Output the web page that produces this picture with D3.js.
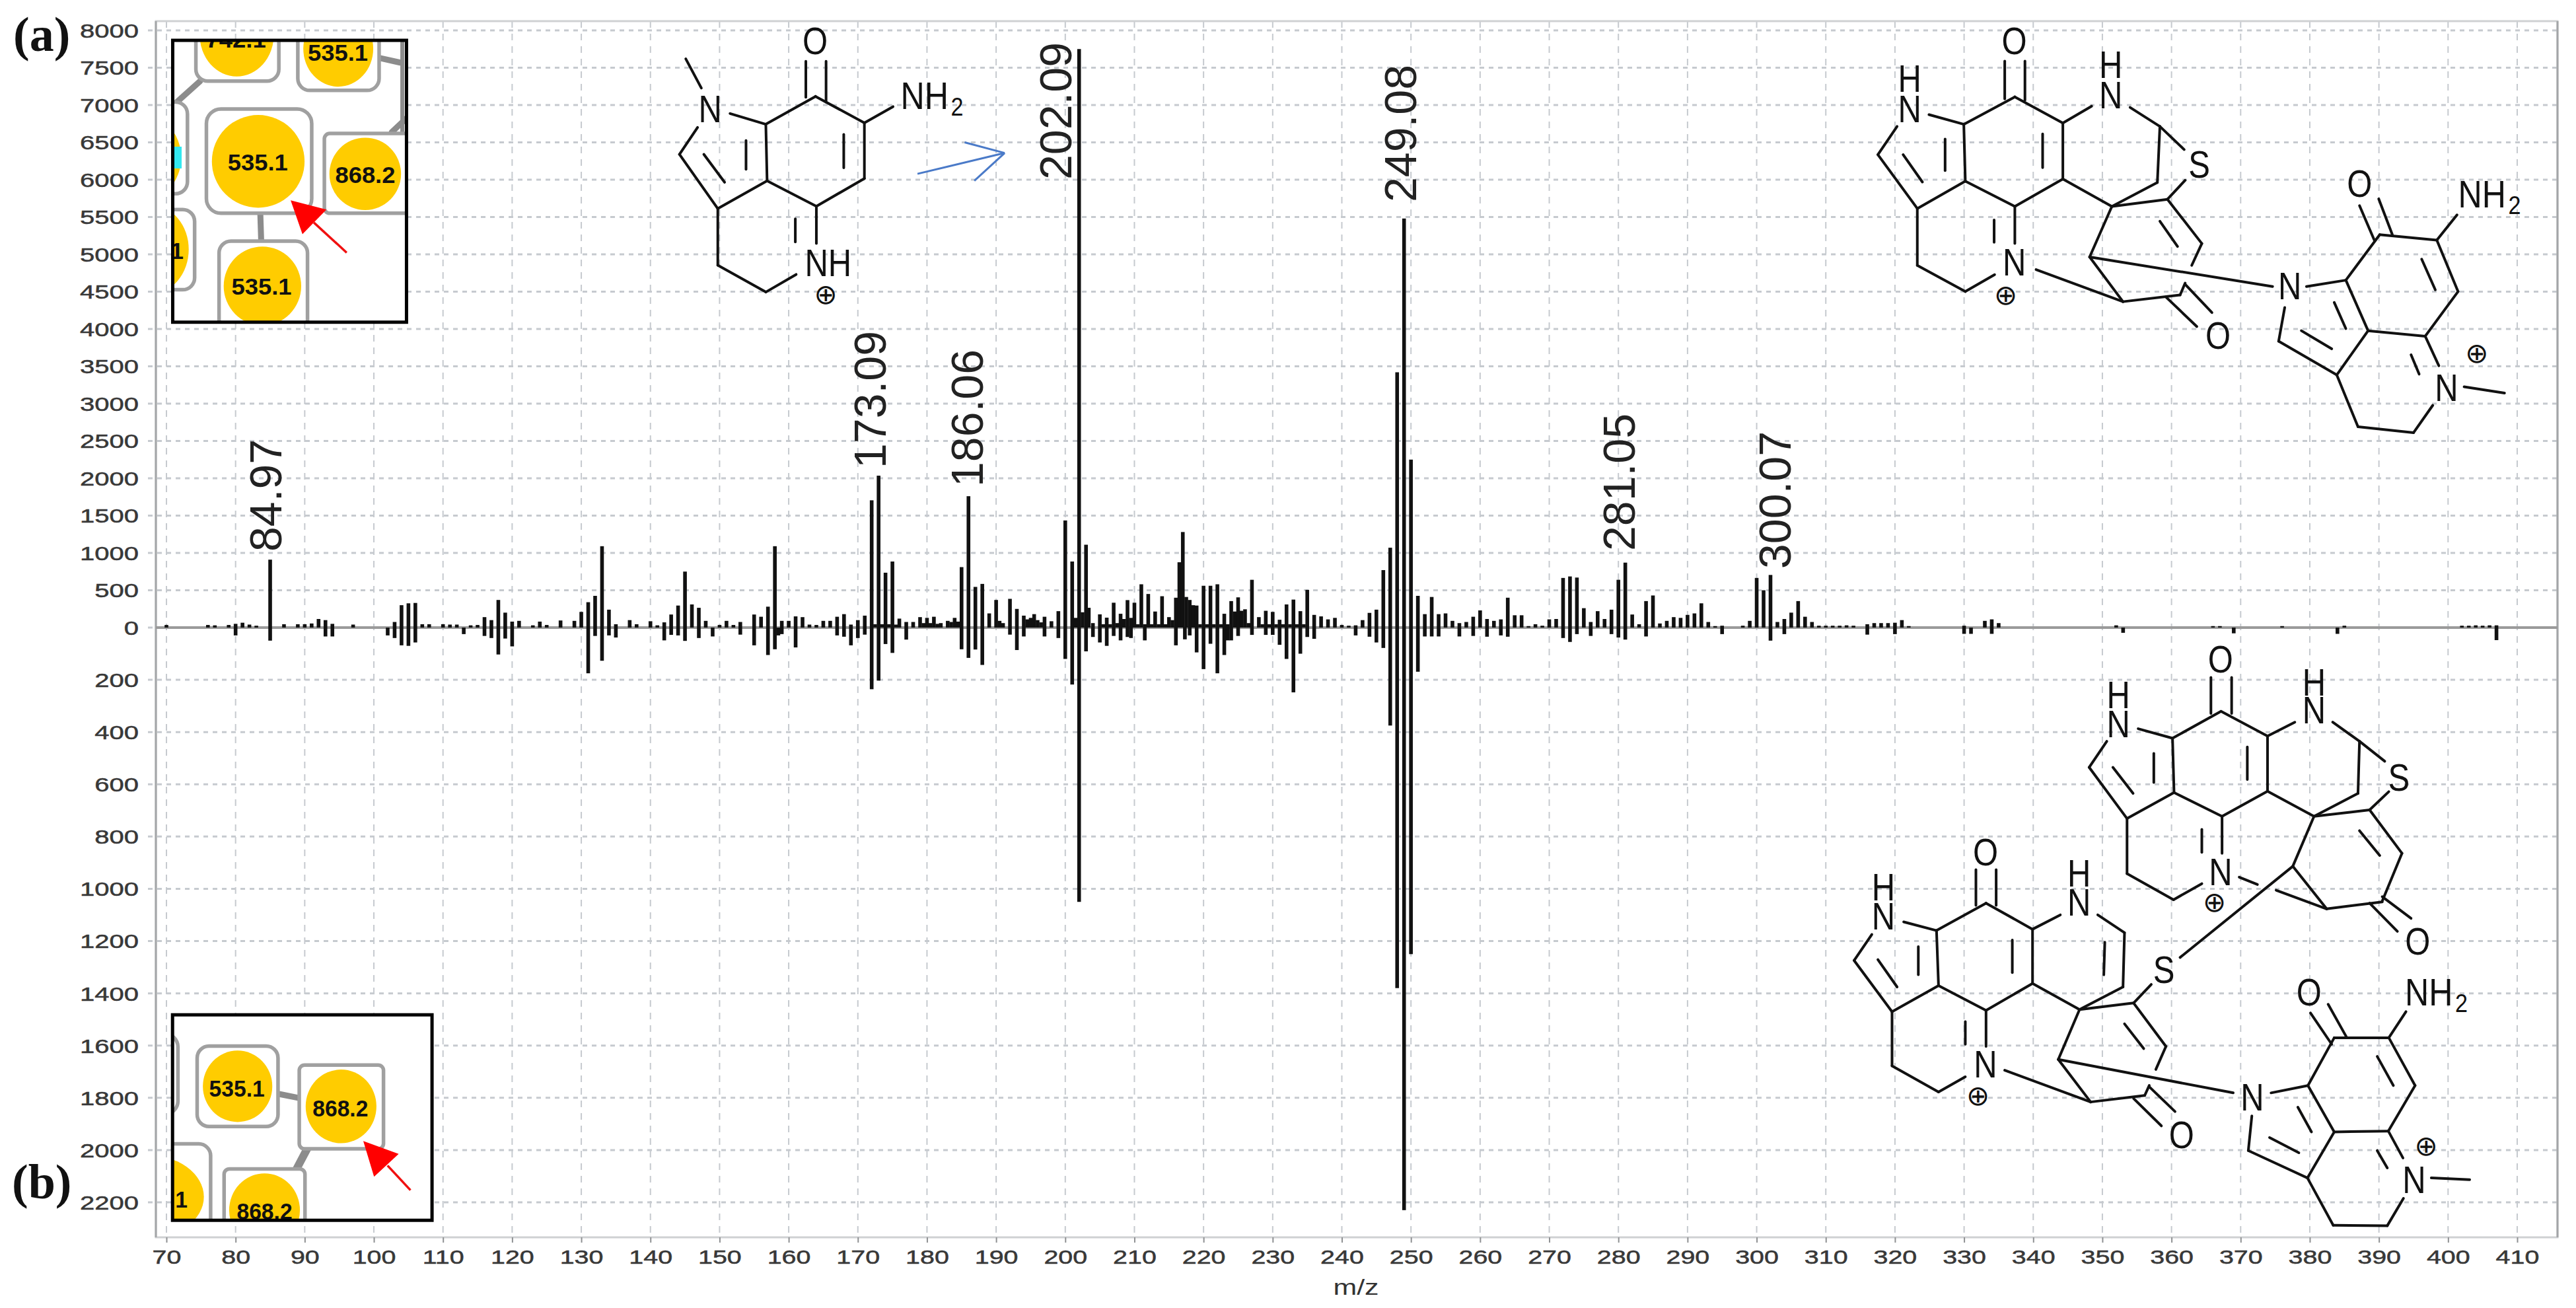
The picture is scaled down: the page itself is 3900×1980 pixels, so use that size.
<!DOCTYPE html>
<html><head><meta charset="utf-8">
<script src="https://cdn.jsdelivr.net/npm/d3@7/dist/d3.min.js"></script>
<style>html,body{margin:0;padding:0;background:#fff}svg{display:block}svg{font-family:"Liberation Sans",Arial,sans-serif}</style>
</head><body><svg id="c" width="3900" height="1980"></svg>
<script>
// ---------- data ----------
const xTicks = d3.range(70, 411, 10);
const yTicksAbove = d3.range(0, 8001, 500);
const yTicksBelow = d3.range(200, 2201, 200);
const xLabel = "m/z";
const panelLabels = ["(a)", "(b)"];

const mzAboveLow = [70,76,77,79,80,81,82,83,85,87,89,90,91,92,93,94,97,103,104,105,106,107,108,110,111,112,114,115,116,117,118,119,120,121,123,124,125,127,129,130,131,132,133,134,135,137,138,140,141,142,143,144,145,146,147,148,150,
151,152,153,155,156,157,158,159,160,161,162,163,164,165,166,167,168,169,170,171,172,172.5,173,173.5,174,174.5,175,175.5,176,177,178,179,179.5,180,180.5,181,181.5,182,183,183.5,184,184.5,185,186,187,188,189,190,190.5,191,192,193,194,194.5,195,195.5,196,196.5,197,198,199];
const intensityAboveLow = [35,35,30,35,50,65,40,25,910,45,45,45,55,115,100,50,40,75,300,325,330,45,45,45,40,40,30,35,140,100,370,200,80,90,30,80,35,95,90,210,340,425,1090,240,45,100,45,85,30,70,175,295,750,310,265,90,35,
90,35,75,175,145,280,1090,90,90,150,140,40,35,90,90,145,180,40,100,160,1705,45,2035,45,735,45,885,40,120,75,75,140,60,130,60,145,50,60,90,75,130,80,810,1760,545,585,190,370,90,60,385,250,160,110,130,180,100,70,145,85,220];
const mzAboveMid = [200,201,201.5,202,202.5,203,203.4,204,205,205.5,206,206.5,207,207.5,208,208.5,209,209.5,210,210.5,211,211.5,212,212.5,213,213.5,214,214.5,215,215.5,216,216.5,217,217.5,218,218.5,219,219.5,220,220.5,221,221.5,222,222.5,223,223.5,224,224.5,225,225.5,226,226.5,227,228,228.5,229,229.5,230,230.5,231,231.5,232,232.5,233,233.5,234,234.5,235,236];
const intensityAboveMid = [1435,885,130,7750,205,1110,265,60,177,45,133,45,333,60,185,115,368,130,333,45,580,45,450,45,215,45,420,45,140,100,400,875,1280,410,370,300,295,45,560,45,560,45,580,45,185,45,355,215,405,225,245,60,640,140,45,225,45,210,45,105,45,310,45,375,45,220,45,505,170];
const mzAboveHigh = [237,238,239,240,241,242,243,244,245,246,247,248,249,250,251,252,253,254,255,256,257,258,259,260,261,262,263,264,265,266,267,268,269,270,271,272,273,274,275,276,277,278,279,280,281,282,283,284,285,286,287,288,289,290,291,292,293,294,295,298,299,300,301,302,303,304,305,306,307,308,309,310,311,312,313,314,316,317,318,319,320,321,322,330,333,334,335,352,366,367,376,385,402,403,404,405,406,407];
const intensityAboveHigh = [150,110,130,35,25,30,100,197,240,770,1070,3420,5480,2250,425,180,410,180,190,90,60,75,145,230,115,90,110,400,165,165,20,45,25,110,115,665,685,670,260,75,220,115,240,640,870,175,45,355,430,55,90,140,130,170,190,325,75,20,25,25,90,665,500,705,75,115,200,355,145,75,25,25,25,25,30,25,45,60,60,60,65,100,20,25,90,110,60,30,20,20,20,25,25,25,30,25,30,30];
const mzBelow = [80,85,93,94,102,103,104,105,106,113,116,117,118,119,120,131,132,133,134,135,142,143,144,145,147,149,153,155,157,158,158.5,159,161,167,168,169,170,171,172,173,174,175,177,185,186,187,188,192,193,194,197,
199,200,201,202,203,204,205,206,207,208,209,209.5,211.5,216,217.3,218,219,220,221,222,223,223.5,224,225,227,229,230,231,232,233,234,235,236,242,244,
245,246,247,248,249,250,251,252,253,254,257,259,261,263,264,272,273,274,276,279,280,281,284,295,302,304,316,320,330,331,334,353,369,384,407];
const intensityBelow = [30,50,34,34,30,40,68,70,57,25,32,40,103,42,72,175,32,127,30,38,49,28,30,51,40,34,27,68,105,83,30,25,76,30,35,68,40,27,236,203,63,97,46,83,116,84,143,27,86,34,34,
40,120,218,1050,91,36,57,70,32,49,36,40,49,68,45,30,95,159,62,175,105,49,49,32,28,28,28,66,120,248,100,36,43,30,35,
57,78,375,1380,2230,1250,169,34,34,34,34,32,35,30,35,40,55,25,32,25,38,46,34,25,50,25,27,25,24,24,24,20,22,24,48];
const mzAbove = mzAboveLow.concat(mzAboveMid, mzAboveHigh);
const intensityAbove = intensityAboveLow.concat(intensityAboveMid, intensityAboveHigh);
const peakLabels = ["84.97","173.09","186.06","202.09","249.08","281.05","300.07"];
const insetANodes = ["742.1","535.1","535.1","868.2","535.1"];
const insetBNodes = ["535.1","868.2","868.2"];

// ---------- scales & chart ----------
const svg = d3.select("#c");
const F = {l:236, r:3872, t:32, b:1873};
const x = d3.scaleLinear().domain([70,410]).range([252,3811]);
const y = d3.scaleLinear().domain([-2200,0,8000]).range([1820,950,46]);
const ink = "#111", gridC = "#c6cacf";

const gridG = svg.append("g");
gridG.selectAll("line.v").data(xTicks).join("line").attr("class","v")
  .attr("x1",d=>x(d)).attr("x2",d=>x(d)).attr("y1",F.t).attr("y2",F.b)
  .attr("stroke",gridC).attr("stroke-width",2).attr("stroke-dasharray","10 9");
const yAll = yTicksAbove.concat(yTicksBelow.map(v=>-v));
gridG.selectAll("line.h").data(yAll).join("line").attr("class","h")
  .attr("x1",F.l-12).attr("x2",F.r).attr("y1",d=>y(d)).attr("y2",d=>y(d))
  .attr("stroke",gridC).attr("stroke-width",3).attr("stroke-dasharray","7 7");

// frame
svg.append("rect").attr("x",F.l).attr("y",F.t).attr("width",F.r-F.l).attr("height",F.b-F.t)
  .attr("fill","none").attr("stroke","#cfd1d3").attr("stroke-width",3);
svg.append("line").attr("x1",F.l).attr("x2",F.l).attr("y1",F.t).attr("y2",F.b).attr("stroke","#a4a6a8").attr("stroke-width",3);
svg.append("line").attr("x1",F.r).attr("x2",F.r).attr("y1",F.t).attr("y2",F.b).attr("stroke","#a4a6a8").attr("stroke-width",3);

// axes
const axL = svg.append("g").attr("transform",`translate(${F.l},0)`)
  .call(d3.axisLeft(y).tickValues(yAll).tickSize(0).tickFormat(d=>Math.abs(d)));
axL.select(".domain").remove();
axL.selectAll("text").attr("x",0).attr("dy",null).attr("dominant-baseline","central")
  .attr("transform","translate(-26,0) scale(1.38,1)")
  .attr("font-size",29).attr("font-family","Liberation Sans").attr("fill","#383838").attr("stroke","#383838").attr("stroke-width",0.5).attr("text-anchor","end");
const axB = svg.append("g").attr("transform",`translate(0,${F.b})`)
  .call(d3.axisBottom(x).tickValues(xTicks).tickSize(8).tickFormat(d=>d));
axB.select(".domain").remove();
axB.selectAll("line").attr("stroke","#8f9193").attr("stroke-width",2);
axB.selectAll("text").attr("y",0).attr("dy",null).attr("text-anchor","middle")
  .attr("transform","translate(0,40) scale(1.36,1)")
  .attr("font-size",29).attr("font-family","Liberation Sans").attr("fill","#383838").attr("stroke","#383838").attr("stroke-width",0.5);
svg.append("text").attr("transform","translate(2053,1960) scale(1.3,1)").attr("text-anchor","middle").attr("font-size",33).attr("fill","#333").text(xLabel);

// baseline
svg.append("line").attr("x1",F.l).attr("x2",F.r).attr("y1",y(0)).attr("y2",y(0)).attr("stroke","#9a9a9a").attr("stroke-width",4);

// spectra
const barW = 5.6;
svg.append("g").selectAll("rect").data(mzAbove).join("rect")
  .attr("x",d=>x(d)-barW/2).attr("width",barW)
  .attr("y",(d,i)=>y(intensityAbove[i])).attr("height",(d,i)=>y(0)-y(intensityAbove[i])).attr("fill",ink);
svg.append("g").selectAll("rect").data(mzBelow).join("rect")
  .attr("x",d=>x(d)-barW/2).attr("width",barW)
  .attr("y",y(0)).attr("height",(d,i)=>y(-intensityBelow[i])-y(0)).attr("fill",ink);

// peak labels
const labelPos = [[426,835],[1341,709],[1488,737],[1622,272],[2144,306],[2475,834],[2711,861]];
svg.append("g").selectAll("text").data(peakLabels).join("text")
  .attr("transform",(d,i)=>`translate(${labelPos[i][0]},${labelPos[i][1]}) rotate(-90)`)
  .attr("font-size",68).attr("fill","#222").text(d=>d);

// panel labels
svg.append("text").attr("x",20).attr("y",77).style("font-family","Liberation Serif").attr("font-weight",700).attr("font-size",74).attr("fill","#111").text(panelLabels[0]);
svg.append("text").attr("x",18).attr("y",1814).style("font-family","Liberation Serif").attr("font-weight",700).attr("font-size",74).attr("fill","#111").text(panelLabels[1]);

// ---------- chemical structures (annotation drawings) ----------
const frame = (ox,oy,sx,sy)=>p=>[ox+p[0]/sx, oy+p[1]/sy];
function mol(g,map,bonds,atoms,extra){
  bonds.forEach(b=>{
    const a=map([b[0],b[1]]), c=map([b[2],b[3]]);
    g.append("line").attr("x1",a[0]).attr("y1",a[1]).attr("x2",c[0]).attr("y2",c[1])
     .attr("stroke",ink).attr("stroke-width",4).attr("stroke-linecap","round");
  });
  atoms.forEach(t=>{
    const p=map([t[1],t[2]]);
    if(t[0]==="⊕"){
      g.append("text").attr("x",p[0]).attr("y",p[1]).attr("dy","0.34em").attr("text-anchor","middle")
       .style("font-family","DejaVu Sans").attr("font-size",42).attr("fill",ink).text("⊕");
    } else {
      g.append("text").attr("transform",`translate(${p[0]},${p[1]}) scale(0.86,1)`).attr("dy","0.36em")
       .attr("text-anchor","middle").attr("font-size",57).attr("fill",ink).text(t[0]);
    }
  });
  (extra||[]).forEach(t=>{
    const p=map([t[0],t[1]]);
    g.append("text").attr("transform",`translate(${p[0]},${p[1]}) scale(0.88,1)`).attr("font-size",57).attr("fill",ink).text("NH");
    g.append("text").attr("transform",`translate(${p[0]+76},${p[1]+10}) scale(0.9,1)`).attr("font-size",38).attr("fill",ink).text("2");
  });
}
const molG = svg.append("g");
const mapA = frame(1000,0,1.568,1.425);
mol(molG,mapA,[[60,127,97,190],[165,245,250,268],[250,268,368,208],[368,208,484,265],[484,265,484,385],[484,385,370,445],[370,445,253,390],[253,390,250,268],[253,390,136,450],[136,450,45,333],[45,333,88,275],[103,333,152,393],[203,303,203,365],[435,290,435,362],[345,210,345,132],[393,220,393,132],[484,265,552,230],[136,450,136,572],[136,572,250,630],[250,630,322,592],[370,445,370,525],[320,472,320,522]],
 [["N",118,235],["O",367,88],["NH",398,567],["⊕",392,635]],[[570,235]]);
[[610,375,817,330],[722,307,817,330],[745,390,817,330]].forEach(b=>{
  const a=mapA([b[0],b[1]]),c=mapA([b[2],b[3]]);
  molG.append("line").attr("x1",a[0]).attr("y1",a[1]).attr("x2",c[0]).attr("y2",c[1]).attr("stroke","#4a7ac8").attr("stroke-width",3);
});
mol(molG,frame(2700,0,1.307,1.568),[[288,272,357,295],[357,295,458,230],[458,230,553,292],[553,292,610,252],[686,255,745,300],[745,300,793,355],[745,300,740,433],[740,433,650,490],[553,292,553,425],[553,425,458,490],[458,490,360,430],[360,430,357,295],[360,430,265,495],[265,495,187,367],[187,367,225,300],[237,367,275,432],[320,330,320,405],[513,318,513,398],[438,235,438,145],[478,238,478,145],[553,425,650,490],[650,490,760,473],[760,473,795,428],[760,473,828,578],[745,525,780,585],[828,578,808,630],[650,490,606,610],[606,610,672,716],[606,610,968,680],[672,716,500,640],[672,716,785,700],[785,700,795,672],[757,705,818,775],[795,675,848,742],[265,495,265,630],[265,630,360,692],[360,692,418,652],[458,490,458,578],[417,522,417,575],[1035,680,1113,665],[1113,665,1180,557],[1180,557,1293,570],[1293,570,1335,692],[1335,692,1270,798],[1270,798,1157,785],[1157,785,1113,665],[1157,785,1095,890],[1095,890,980,810],[980,810,992,730],[1025,785,1085,828],[1090,718,1113,780],[1263,615,1290,688],[1140,488,1170,572],[1178,472,1205,557],[1293,570,1333,510],[1095,890,1137,1013],[1137,1013,1247,1027],[1247,1027,1285,962],[1270,798,1297,868],[1242,842,1258,888],[1347,918,1427,933]],
 [["H",250,185],["N",250,258],["O",457,97],["H",648,153],["N",648,225],["S",823,390],["N",457,622],["⊕",440,700],["O",860,795],["N",1002,678],["O",1140,435],["N",1312,920],["⊕",1372,838]],[[1335,492]]);
mol(molG,frame(2700,950,1.307,1.522),[[702,233,770,255],[770,255,866,193],[866,193,958,250],[958,250,1012,218],[1087,218,1140,262],[1140,262,1190,308],[1140,262,1137,382],[1137,382,1050,435],[958,250,958,377],[958,377,868,435],[868,435,773,380],[773,380,770,255],[773,380,680,440],[680,440,605,322],[605,322,640,262],[652,322,692,382],[733,290,733,357],[918,275,918,350],[846,198,846,115],[887,198,887,115],[958,377,1050,435],[1050,435,1160,420],[1160,420,1198,378],[1160,420,1224,520],[1140,468,1180,525],[1224,520,1185,630],[1050,435,1008,550],[1008,550,1075,648],[975,605,1075,648],[1075,648,1185,632],[1160,635,1215,700],[1185,620,1242,670],[680,440,680,567],[680,567,772,627],[772,627,828,590],[868,435,868,520],[828,465,828,518],[902,575,938,592],[1008,550,785,760],
 [238,678,303,698],[303,698,401,635],[401,635,493,695],[493,695,548,662],[622,662,675,703],[675,703,672,828],[672,828,586,880],[636,725,634,800],[493,695,493,820],[493,820,401,882],[401,882,307,825],[307,825,303,698],[307,825,215,885],[215,885,140,767],[140,767,175,707],[187,765,225,828],[267,735,267,800],[453,720,453,795],[381,640,381,558],[421,640,421,558],[493,820,586,880],[586,880,693,865],[693,865,728,822],[693,865,757,965],[675,913,713,970],[757,965,737,1018],[586,880,544,995],[544,995,608,1093],[544,995,890,1072],[608,1093,438,1020],[608,1093,715,1078],[715,1078,724,1055],[693,1085,748,1148],[724,1058,775,1115],[215,885,215,1010],[215,1010,307,1070],[307,1070,360,1035],[401,882,401,965],[360,908,360,960],[965,1072,1038,1055],[1038,1055,1090,945],[1090,945,1198,945],[1198,945,1250,1055],[1250,1055,1197,1160],[1197,1160,1090,1162],[1090,1162,1038,1055],[1090,1162,1037,1268],[1037,1268,920,1205],[920,1205,927,1125],[962,1175,1020,1210],[1018,1105,1045,1162],[1175,988,1207,1055],[1043,888,1085,960],[1078,868,1115,945],[1198,945,1232,885],[1037,1268,1088,1377],[1088,1377,1195,1378],[1195,1378,1227,1315],[1197,1160,1226,1222],[1175,1205,1195,1245],[1282,1268,1358,1272]],
 [["H",663,155],["N",663,222],["O",865,72],["H",1050,125],["N",1050,190],["S",1218,345],["N",865,562],["⊕",853,632],["O",1255,722],["S",753,788],["H",198,598],["N",198,665],["O",400,517],["H",585,565],["N",585,632],["N",400,1005],["⊕",385,1078],["O",788,1168],["N",928,1082],["O",1040,840],["N",1248,1272],["⊕",1272,1195]],[[1230,870]]);

// ---------- insets ----------
const defs = svg.append("defs");
function inset(id,map,rectZ,boxes,circles,texts,conns,arrow,fs,stretch){
  const a=map([rectZ[0],rectZ[1]]),b=map([rectZ[2],rectZ[3]]);
  defs.append("clipPath").attr("id",id).append("rect").attr("x",a[0]).attr("y",a[1]).attr("width",b[0]-a[0]).attr("height",b[1]-a[1]);
  svg.append("rect").attr("x",a[0]).attr("y",a[1]).attr("width",b[0]-a[0]).attr("height",b[1]-a[1]).attr("fill","#fff");
  const g=svg.append("g").attr("clip-path",`url(#${id})`);
  conns.forEach(c=>{const p=map([c[0],c[1]]),q=map([c[2],c[3]]);
    g.append("line").attr("x1",p[0]).attr("y1",p[1]).attr("x2",q[0]).attr("y2",q[1]).attr("stroke","#8c8c8c").attr("stroke-width",c[4]||9).attr("stroke-linecap","round");});
  boxes.forEach(c=>{const p=map([c[0],c[1]]),q=map([c[2],c[3]]);
    g.append("rect").attr("x",p[0]).attr("y",p[1]).attr("width",q[0]-p[0]).attr("height",q[1]-p[1]).attr("rx",c[4]).attr("fill","#fff").attr("stroke","#a0a0a0").attr("stroke-width",5.5);});
  circles.forEach(c=>{const p=map([c[0],c[1]]),q=map([c[0]+c[2],c[1]+c[3]]);
    g.append("ellipse").attr("cx",p[0]).attr("cy",p[1]).attr("rx",q[0]-p[0]).attr("ry",q[1]-p[1]).attr("fill","#ffcc00");});
  texts.forEach(c=>{const p=map([c[1],c[2]]);
    g.append("text").attr("transform",`translate(${p[0]},${p[1]}) scale(${stretch[0]},${stretch[1]})`).attr("dy","0.36em").attr("text-anchor","middle").attr("font-weight",700).attr("font-size",fs).attr("fill","#111").text(c[0]);});
  const t=arrow.slice(0,3).map(map);
  svg.append("polygon").attr("points",t.map(d=>d.join(",")).join(" ")).attr("fill","#ff0000");
  const l1=map(arrow[3]),l2=map(arrow[4]);
  svg.append("line").attr("x1",l1[0]).attr("y1",l1[1]).attr("x2",l2[0]).attr("y2",l2[1]).attr("stroke","#f01010").attr("stroke-width",3.5);
  svg.append("rect").attr("x",a[0]).attr("y",a[1]).attr("width",b[0]-a[0]).attr("height",b[1]-a[1]).attr("fill","none").attr("stroke","#000").attr("stroke-width",5);
  return g;
}
const mapIA=frame(0,0,1.568,1.425), mapIB=frame(0,1450,1.96,2.958);
const gA=inset("ia",mapIA,[410,87,965,695],
 [[465,-60,662,175,18],[707,50,900,195,18],[360,220,445,418,18],[490,235,740,460,22],[770,288,1000,460,8],[360,452,462,625,18],[520,520,730,760,18]],
 [[562,75,88,90],[803,105,83,82],[335,340,95,95],[613,348,110,100],[867,375,85,78],[360,538,88,95],[623,617,92,85]],
 [[insetANodes[0],560,85],[insetANodes[1],802,113],[insetANodes[2],612,350],[insetANodes[3],867,377],["1",420,540],[insetANodes[4],621,618]],
 [[420,220,475,175],[900,125,950,135],[618,462,620,518],[930,285,965,255],[955,60,955,290,6]],
 [[690,432],[775,452],[718,505],[745,480],[823,545]],35,[1.04,1]);
gA.append("rect").attr("x",262).attr("y",222).attr("width",13).attr("height",33).attr("fill","#33e8f0");
const gB=inset("ib",mapIB,[512,255,1282,1175],
 [[300,340,528,700,20],[585,395,825,755,18],[888,480,1138,855,8],[300,833,625,1300,18],[665,945,905,1300,8]],
 [[705,575,103,160],[1012,665,105,165],[430,1070,175,190],[785,1130,105,165]],
 [[insetBNodes[0],703,583],[insetBNodes[1],1010,672],["1",538,1080],[insetBNodes[2],785,1133]],
 [[830,610,890,628],[915,845,880,945,12]],
 [[1078,820],[1183,878],[1110,980],[1150,930],[1218,1040]],33,[1.02,1.05]);
</script></body></html>
